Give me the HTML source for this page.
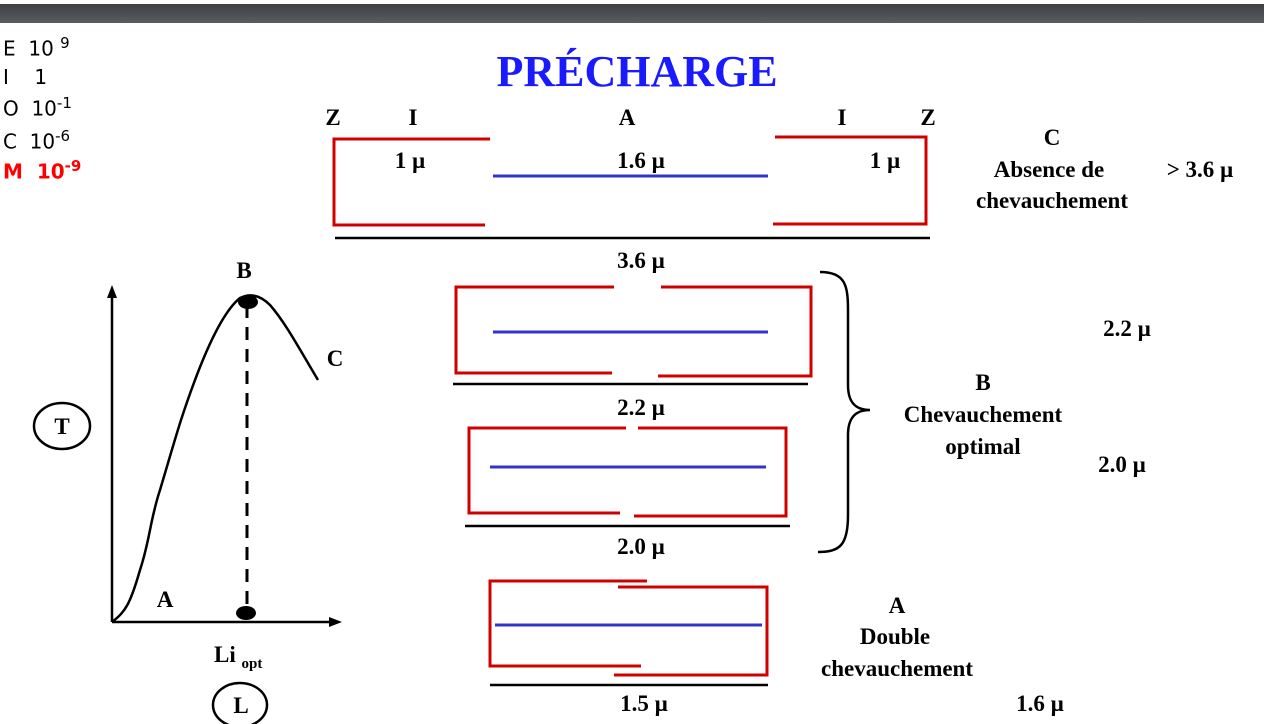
<!DOCTYPE html>
<html><head><meta charset="utf-8"><style>
body{margin:0;width:1264px;height:724px;background:#fff;overflow:hidden;position:relative}
.bar{position:absolute;left:0;top:4px;width:1264px;height:19px;background:linear-gradient(#3e4043,#5a5d60)}
.leg{position:absolute;left:3px;font:20px "DejaVu Sans",sans-serif;color:#000;white-space:pre}
sup{font-size:15px}
</style></head><body>
<div class="bar"></div>
<div class="leg" style="top:34px">E  10 <sup>9</sup></div>
<div class="leg" style="top:65px">I    1</div>
<div class="leg" style="top:94px">O  10<sup>-1</sup></div>
<div class="leg" style="top:127px">C  10<sup>-6</sup></div>
<div class="leg" style="top:157px;color:#f00;font-weight:bold">M  10<sup>-9</sup></div>
<svg width="1264" height="724" style="position:absolute;left:0;top:0" font-family="Liberation Serif,serif" font-weight="bold">
<text x="637" y="86" text-anchor="middle" font-size="44" fill="#1a1aff">PRÉCHARGE</text>
<g font-size="23" text-anchor="middle">
<text x="333" y="125">Z</text><text x="413" y="125">I</text><text x="627" y="125">A</text><text x="842" y="125">I</text><text x="928" y="125">Z</text>
<text x="410" y="168">1 µ</text><text x="641" y="168">1.6 µ</text><text x="885" y="168">1 µ</text>
<text x="1052" y="145">C</text><text x="1049" y="177">Absence de</text><text x="1052" y="208">chevauchement</text><text x="1200" y="177">&gt; 3.6 µ</text>
<text x="641" y="268">3.6 µ</text>
<text x="1127" y="336">2.2 µ</text><text x="983" y="390">B</text><text x="983" y="422">Chevauchement</text><text x="983" y="454">optimal</text><text x="1122" y="472">2.0 µ</text>
<text x="641" y="415">2.2 µ</text><text x="641" y="554">2.0 µ</text>
<text x="897" y="613">A</text><text x="895" y="644">Double</text><text x="897" y="676">chevauchement</text>
<text x="644" y="711">1.5 µ</text><text x="1040" y="711">1.6 µ</text>
<text x="244" y="278">B</text><text x="335" y="366">C</text><text x="165" y="607">A</text>
<text x="62" y="434">T</text><text x="241" y="713">L</text>
<text x="214" y="662" text-anchor="start">Li <tspan font-size="15" dy="6">opt</tspan></text>
</g>
<g stroke="#d00000" stroke-width="3" fill="none">
<polyline points="490,139 334,139 334,225 485,225"/><polyline points="775,137 926,137 926,224 773,224"/>
<polyline points="614,287 456,287 456,373 612,373"/><polyline points="661,287 811,287 811,376 658,376"/>
<polyline points="626,428 469,428 469,513 620,513"/><polyline points="638,428 786,428 786,516 634,516"/>
<polyline points="647,581 490,581 490,666 641,666"/><polyline points="618,587 767,587 767,675 614,675"/>
</g>
<g stroke="#3333cc" stroke-width="3">
<line x1="493" y1="176" x2="768" y2="176"/><line x1="493" y1="332" x2="768" y2="332"/><line x1="490" y1="467" x2="766" y2="467"/><line x1="495" y1="625" x2="762" y2="625"/>
</g>
<g stroke="#000" stroke-width="2.5" fill="none">
<line x1="335" y1="238" x2="930" y2="238"/><line x1="453" y1="384" x2="808" y2="384"/><line x1="465" y1="526" x2="790" y2="526"/><line x1="490" y1="685" x2="768" y2="685"/>
<path d="M820,272 C845,272 848,285 848,310 L848,385 C848,402 855,410 870,410 C855,410 848,418 848,435 L848,515 C848,545 840,552 818,552"/>
<line x1="112" y1="622" x2="112" y2="292"/><line x1="112" y1="622" x2="335" y2="622"/>
<path d="M112,622 C125,612 130,605 140,570 C150,540 150,520 160,490 C175,440 180,420 195,380 C210,340 225,310 240,298 C250,293 260,295 270,305 C285,322 300,350 318,380"/>
<ellipse cx="62" cy="426" rx="28" ry="23"/><ellipse cx="240" cy="705" rx="27" ry="22"/>
<line x1="247" y1="305" x2="247" y2="605" stroke-dasharray="13,9" stroke-width="3"/>
</g>
<polygon points="112,285 107,298 117,298" fill="#000"/><polygon points="342,622 329,617 329,627" fill="#000"/>
<ellipse cx="248" cy="302" rx="10" ry="7" fill="#000"/><ellipse cx="246" cy="613" rx="10" ry="7" fill="#000"/>
</svg>
</body></html>
